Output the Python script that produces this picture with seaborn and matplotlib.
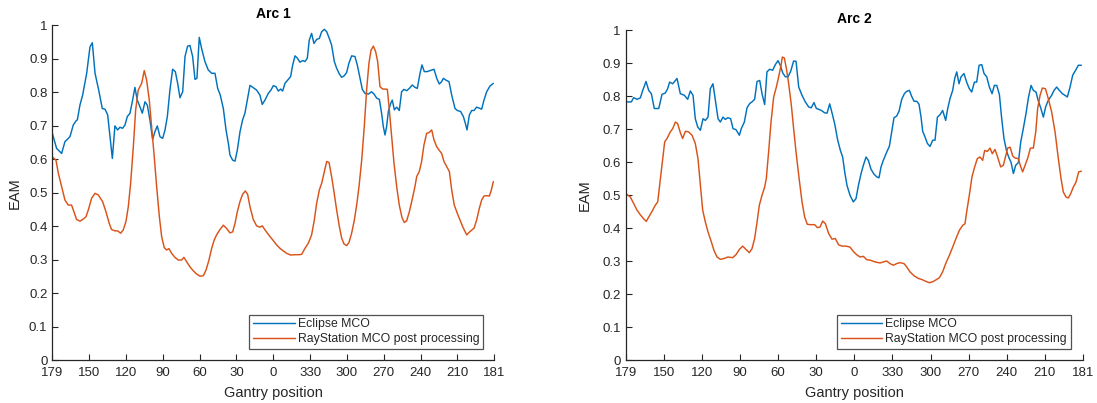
import numpy as np
import pandas as pd
import matplotlib
matplotlib.use("Agg")
import matplotlib.pyplot as plt
import seaborn as sns

# ---------------- data ----------------
tick_pos = [0, 30, 60, 90, 120, 150, 180, 210, 240, 270, 300, 330, 360]
tick_labels = ["179", "150", "120", "90", "60", "30", "0", "330", "300", "270", "240", "210", "181"]
y_ticks = [0, 0.1, 0.2, 0.3, 0.4, 0.5, 0.6, 0.7, 0.8, 0.9, 1.0]
y_tick_labels = ["0", "0.1", "0.2", "0.3", "0.4", "0.5", "0.6", "0.7", "0.8", "0.9", "1"]
series_names = ["Eclipse MCO", "RayStation MCO post processing"]
titles = ["Arc 1", "Arc 2"]

arc1_eclipse_x = [0, 3.5, 7.6, 10.3, 14.4, 17.1, 19.3, 20.4, 22.5, 24.7, 28.0, 30.7, 32.6, 34.8, 37.5,
                  40.7, 42.9, 45.1, 47.0, 48.9, 51.0, 53.2, 55.1, 57.3, 59.2, 61.1, 63.3, 65.4, 67.3,
                  69.2, 71.4, 73.3, 75.5, 77.4, 79.5, 81.7, 83.6, 85.5, 87.7, 89.9, 91.8, 93.7, 95.8,
                  98.0, 100.2, 102.1, 104.0, 106.2, 108.1, 110.2, 112.1, 114.3, 116.2, 117.8, 119.7,
                  121.6, 124.3, 127.0, 129.8, 132.5, 134.7, 136.8, 139.3, 141.5, 143.4, 144.7, 146.9,
                  148.8, 150.7, 152.9, 155.0, 156.9, 158.8, 161.0, 163.7, 166.4, 169.1, 171.0, 173.2,
                  175.9, 178.1, 180.0, 182.2, 184.1, 186.0, 187.6, 189.5, 192.2, 194.1, 195.8, 197.7,
                  199.6, 201.7, 203.9, 205.8, 207.7, 209.3, 211.2, 213.1, 215.3, 217.5, 219.4, 221.6,
                  223.5, 225.6, 227.5, 229.7, 231.6, 233.8, 235.7, 237.6, 239.7, 241.6, 243.8, 246.5,
                  248.4, 250.6, 252.5, 254.7, 257.4, 260.1, 262.0, 264.2, 266.4, 268.2, 269.6, 271.0,
                  272.3, 273.7, 275.6, 276.9, 278.6, 280.5, 282.6, 284.5, 286.4, 288.6, 290.8, 293.2,
                  295.4, 297.3, 299.5, 301.1, 303.0, 305.4, 307.6, 310.9, 313.1, 315.2, 317.1, 318.5,
                  320.4, 323.1, 325.3, 328.0, 329.9, 332.6, 334.8, 336.4, 337.8, 339.7, 341.6, 343.5,
                  345.6, 347.8, 349.7, 351.6, 353.8, 356.5, 359.2]
arc1_eclipse_y = [0.677, 0.632, 0.617, 0.652, 0.667, 0.702, 0.714, 0.717, 0.761, 0.791, 0.856, 0.935,
                  0.947, 0.856, 0.811, 0.751, 0.749, 0.732, 0.667, 0.602, 0.699, 0.687, 0.695, 0.692,
                  0.702, 0.727, 0.737, 0.776, 0.814, 0.776, 0.756, 0.737, 0.771, 0.761, 0.717, 0.659,
                  0.682, 0.699, 0.667, 0.662, 0.687, 0.727, 0.806, 0.868, 0.861, 0.826, 0.783, 0.801,
                  0.906, 0.937, 0.939, 0.906, 0.838, 0.841, 0.963, 0.930, 0.891, 0.866, 0.856, 0.856,
                  0.811, 0.791, 0.751, 0.687, 0.647, 0.612, 0.597, 0.594, 0.627, 0.682, 0.717, 0.737,
                  0.776, 0.820, 0.813, 0.806, 0.791, 0.763, 0.776, 0.796, 0.806, 0.819, 0.816, 0.803,
                  0.809, 0.803, 0.826, 0.838, 0.846, 0.881, 0.908, 0.901, 0.889, 0.894, 0.891, 0.901,
                  0.955, 0.975, 0.945, 0.957, 0.960, 0.980, 0.987, 0.980, 0.960, 0.940, 0.891, 0.871,
                  0.854, 0.844, 0.848, 0.858, 0.886, 0.908, 0.906, 0.881, 0.841, 0.808, 0.796, 0.794,
                  0.801, 0.794, 0.782, 0.778, 0.737, 0.697, 0.672, 0.697, 0.742, 0.766, 0.776, 0.747,
                  0.755, 0.745, 0.801, 0.808, 0.804, 0.811, 0.821, 0.814, 0.811, 0.856, 0.881, 0.861,
                  0.861, 0.864, 0.868, 0.841, 0.824, 0.831, 0.841, 0.836, 0.831, 0.791, 0.751, 0.745,
                  0.742, 0.727, 0.707, 0.687, 0.732, 0.745, 0.745, 0.755, 0.752, 0.749, 0.776, 0.801,
                  0.818, 0.826]

arc1_raystation_x = [0, 3.0, 4.9, 7.6, 10.3, 13.0, 15.7, 17.6, 19.8, 22.5, 25.2, 27.4, 29.3, 32.0,
                     34.8, 37.5, 41.0, 43.7, 46.4, 48.3, 51.0, 53.2, 55.7, 57.8, 60.0, 61.9, 63.8,
                     66.0, 67.9, 70.0, 72.8, 74.9, 76.8, 79.0, 80.9, 82.8, 85.0, 87.2, 89.1, 91.2,
                     93.1, 95.0, 97.2, 99.9, 102.6, 105.3, 107.2, 109.4, 112.1, 114.8, 117.6, 120.3,
                     123.0, 125.2, 127.6, 129.8, 131.9, 133.8, 136.6, 139.3, 142.0, 144.7, 146.9,
                     148.8, 150.7, 152.9, 155.0, 157.2, 159.1, 161.0, 163.7, 166.4, 169.1, 171.0,
                     173.2, 175.9, 177.3, 180.0, 182.7, 185.4, 188.2, 190.9, 194.1, 197.7, 201.2,
                     203.1, 205.8, 208.5, 211.2, 213.4, 215.3, 217.5, 219.4, 221.6, 223.5, 225.4,
                     227.5, 229.4, 231.6, 233.8, 235.7, 237.6, 239.7, 241.6, 243.8, 246.0, 247.9,
                     249.8, 252.0, 254.1, 256.0, 257.9, 259.6, 261.5, 263.4, 265.0, 266.9, 269.1,
                     271.0, 272.9, 274.5, 276.4, 278.3, 280.5, 282.6, 284.8, 286.7, 288.6, 290.8,
                     293.0, 295.1, 296.8, 298.9, 300.8, 302.7, 304.9, 306.8, 309.0, 310.9, 313.1,
                     315.0, 317.1, 319.0, 321.2, 323.4, 325.3, 327.4, 329.9, 332.1, 334.2, 337.5,
                     340.2, 343.5, 345.6, 347.8, 349.7, 351.6, 353.8, 356.0, 357.6, 359.2]
arc1_raystation_y = [0.607, 0.597, 0.558, 0.518, 0.478, 0.463, 0.463, 0.443, 0.420, 0.415, 0.421,
                     0.428, 0.448, 0.483, 0.498, 0.493, 0.473, 0.443, 0.408, 0.390, 0.386, 0.386,
                     0.379, 0.389, 0.414, 0.458, 0.528, 0.637, 0.747, 0.806, 0.826, 0.864, 0.836,
                     0.776, 0.697, 0.617, 0.518, 0.428, 0.368, 0.336, 0.329, 0.333, 0.319, 0.307,
                     0.299, 0.299, 0.307, 0.294, 0.279, 0.267, 0.257, 0.251, 0.252, 0.269, 0.299,
                     0.334, 0.359, 0.374, 0.390, 0.403, 0.393, 0.380, 0.383, 0.408, 0.443, 0.474,
                     0.495, 0.505, 0.495, 0.458, 0.420, 0.401, 0.397, 0.401, 0.389, 0.376, 0.369,
                     0.357, 0.344, 0.334, 0.326, 0.319, 0.314, 0.315, 0.315, 0.316, 0.334, 0.349,
                     0.374, 0.418, 0.468, 0.508, 0.528, 0.563, 0.593, 0.590, 0.548, 0.503, 0.448,
                     0.399, 0.364, 0.347, 0.342, 0.351, 0.379, 0.418, 0.463, 0.518, 0.597, 0.697,
                     0.806, 0.886, 0.925, 0.937, 0.920, 0.891, 0.816, 0.809, 0.809, 0.808, 0.747,
                     0.667, 0.588, 0.518, 0.463, 0.426, 0.411, 0.416, 0.443, 0.478, 0.513, 0.548,
                     0.563, 0.593, 0.642, 0.677, 0.679, 0.687, 0.657, 0.637, 0.627, 0.617, 0.593,
                     0.578, 0.563, 0.508, 0.463, 0.438, 0.418, 0.399, 0.374, 0.384, 0.394, 0.418,
                     0.453, 0.478, 0.490, 0.491, 0.490, 0.508, 0.533]

arc2_eclipse_x = [0, 4.4, 6.3, 8.9, 11.5, 13.4, 16.0, 18.1, 20.2, 22.5, 26.0, 28.6, 31.2, 33.0, 34.6,
                  37.0, 40.4, 43.0, 46.2, 48.8, 50.9, 53.0, 54.8, 56.7, 58.8, 60.9, 62.7, 64.8, 66.6,
                  68.7, 70.6, 72.7, 74.5, 76.6, 78.4, 80.5, 82.6, 84.5, 86.8, 89.5, 91.0, 93.4, 95.5,
                  97.6, 99.4, 101.5, 103.4, 105.5, 107.3, 109.4, 111.2, 113.3, 115.7, 117.8, 119.9,
                  121.7, 123.6, 125.7, 127.8, 129.9, 132.2, 134.1, 136.2, 138.8, 141.4, 144.0, 146.1,
                  148.2, 150.1, 152.4, 154.5, 156.6, 158.5, 160.6, 162.4, 164.5, 166.9, 169.0, 170.8,
                  172.4, 174.2, 176.6, 179.2, 181.3, 183.2, 185.3, 187.1, 189.2, 191.0, 193.1, 195.5,
                  197.6, 199.4, 201.0, 202.8, 205.5, 207.6, 209.4, 211.2, 213.3, 215.2, 217.3, 219.4,
                  221.2, 223.3, 225.1, 227.0, 229.1, 230.9, 232.5, 233.8, 235.6, 237.5, 239.6, 241.7,
                  243.5, 245.4, 247.4, 249.5, 251.9, 253.5, 255.3, 257.4, 259.0, 260.6, 262.4, 264.0,
                  266.3, 268.4, 270.5, 272.4, 274.5, 276.3, 278.2, 280.3, 282.1, 284.2, 286.3, 288.4,
                  290.2, 292.1, 294.2, 296.0, 297.8, 299.9, 301.8, 303.3, 305.2, 307.0, 309.1, 311.0,
                  313.0, 315.1, 317.0, 319.1, 320.9, 323.0, 324.9, 326.7, 328.8, 330.6, 332.7, 335.3,
                  337.2, 339.3, 341.4, 343.7, 345.8, 347.7, 349.8, 351.9, 354.2, 356.3, 358.7]
arc2_eclipse_y = [0.783, 0.783, 0.796, 0.791, 0.795, 0.818, 0.845, 0.818, 0.808, 0.763, 0.763, 0.806,
                  0.810, 0.823, 0.843, 0.838, 0.854, 0.808, 0.803, 0.791, 0.816, 0.803, 0.732, 0.707,
                  0.697, 0.732, 0.727, 0.737, 0.823, 0.838, 0.788, 0.732, 0.722, 0.737, 0.730, 0.735,
                  0.732, 0.702, 0.699, 0.682, 0.702, 0.722, 0.765, 0.778, 0.783, 0.791, 0.845, 0.848,
                  0.808, 0.775, 0.874, 0.882, 0.879, 0.896, 0.908, 0.894, 0.871, 0.859, 0.859, 0.876,
                  0.907, 0.906, 0.828, 0.803, 0.783, 0.768, 0.765, 0.781, 0.763, 0.760, 0.756, 0.750,
                  0.749, 0.777, 0.750, 0.717, 0.667, 0.636, 0.616, 0.571, 0.530, 0.500, 0.480, 0.490,
                  0.530, 0.566, 0.591, 0.616, 0.606, 0.579, 0.564, 0.556, 0.553, 0.586, 0.606, 0.631,
                  0.649, 0.692, 0.735, 0.740, 0.755, 0.791, 0.808, 0.815, 0.818, 0.800, 0.785, 0.785,
                  0.776, 0.737, 0.694, 0.677, 0.657, 0.648, 0.667, 0.667, 0.737, 0.744, 0.757, 0.727,
                  0.763, 0.793, 0.818, 0.854, 0.874, 0.838, 0.859, 0.869, 0.843, 0.823, 0.813, 0.843,
                  0.843, 0.894, 0.896, 0.869, 0.859, 0.828, 0.808, 0.833, 0.833, 0.805, 0.732, 0.672,
                  0.633, 0.613, 0.601, 0.566, 0.591, 0.599, 0.662, 0.702, 0.747, 0.795, 0.833, 0.818,
                  0.813, 0.785, 0.765, 0.737, 0.768, 0.788, 0.803, 0.818, 0.828, 0.818, 0.808, 0.803,
                  0.798, 0.828, 0.864, 0.879, 0.894, 0.894]

arc2_raystation_x = [0, 3.6, 6.3, 8.9, 11.5, 14.1, 16.2, 18.1, 20.7, 23.3, 25.2, 26.7, 28.6, 30.7,
                     32.5, 35.1, 37.0, 39.1, 40.9, 43.0, 44.8, 47.0, 49.6, 52.2, 54.8, 56.9, 58.8,
                     60.6, 62.7, 64.8, 67.4, 69.5, 71.9, 74.5, 77.1, 80.5, 84.2, 86.8, 89.5, 92.1,
                     94.7, 97.3, 99.4, 101.5, 103.4, 105.2, 107.3, 109.4, 110.7, 112.5, 114.4, 116.5,
                     118.6, 120.4, 122.3, 123.3, 124.9, 126.5, 128.3, 130.4, 132.2, 134.1, 136.2,
                     138.8, 140.9, 143.0, 145.3, 148.8, 150.9, 153.0, 155.1, 157.2, 159.8, 162.4,
                     165.0, 167.6, 170.3, 173.4, 176.6, 179.2, 181.8, 184.5, 187.1, 189.7, 192.9,
                     196.3, 200.2, 202.8, 205.5, 208.1, 210.7, 213.3, 216.0, 219.1, 221.2, 223.8,
                     227.0, 230.4, 233.0, 236.4, 239.1, 242.2, 244.8, 246.9, 249.5, 252.2, 254.8,
                     257.4, 260.0, 262.7, 265.3, 267.1, 268.4, 270.5, 272.6, 274.7, 276.8, 278.9,
                     281.0, 282.6, 284.7, 286.8, 288.6, 290.7, 292.8, 295.2, 297.3, 298.9, 300.7,
                     302.6, 304.7, 306.5, 309.1, 311.0, 312.5, 314.4, 316.5, 318.6, 320.9, 322.8,
                     324.3, 326.2, 328.0, 330.4, 332.7, 335.3, 338.0, 340.6, 342.7, 344.5, 346.6,
                     348.5, 350.3, 352.4, 354.5, 356.6, 358.7]
arc2_raystation_y = [0.505, 0.495, 0.475, 0.455, 0.441, 0.429, 0.421, 0.434, 0.451, 0.470, 0.480,
                     0.530, 0.591, 0.662, 0.672, 0.692, 0.702, 0.722, 0.717, 0.690, 0.672, 0.694,
                     0.692, 0.682, 0.657, 0.611, 0.530, 0.455, 0.419, 0.389, 0.359, 0.333, 0.313,
                     0.306, 0.308, 0.313, 0.311, 0.320, 0.336, 0.346, 0.336, 0.326, 0.338, 0.369,
                     0.419, 0.470, 0.500, 0.525, 0.551, 0.631, 0.722, 0.798, 0.828, 0.859, 0.894,
                     0.919, 0.916, 0.884, 0.838, 0.773, 0.702, 0.631, 0.561, 0.480, 0.434, 0.412,
                     0.411, 0.411, 0.402, 0.404, 0.422, 0.414, 0.384, 0.367, 0.369, 0.350, 0.346,
                     0.346, 0.343, 0.330, 0.320, 0.313, 0.315, 0.305, 0.303, 0.298, 0.295, 0.298,
                     0.301, 0.293, 0.288, 0.293, 0.296, 0.293, 0.283, 0.268, 0.256, 0.248, 0.245,
                     0.239, 0.235, 0.239, 0.245, 0.250, 0.268, 0.296, 0.318, 0.343, 0.369, 0.394,
                     0.409, 0.414, 0.449, 0.500, 0.556, 0.586, 0.611, 0.616, 0.606, 0.636, 0.633,
                     0.643, 0.626, 0.639, 0.616, 0.586, 0.591, 0.616, 0.643, 0.646, 0.619, 0.613,
                     0.611, 0.586, 0.571, 0.591, 0.613, 0.643, 0.643, 0.692, 0.763, 0.803, 0.825,
                     0.823, 0.793, 0.753, 0.692, 0.611, 0.551, 0.510, 0.495, 0.492, 0.505, 0.525,
                     0.540, 0.571, 0.573]

# ---------------- styling ----------------
sns.set_theme(style="white")
plt.rcParams["font.family"] = ["Liberation Sans", "DejaVu Sans"]
axis_color = "#262626"
palette = {series_names[0]: "#0072BD", series_names[1]: "#D95319"}


def make_frame(ex, ey, rx, ry):
    d1 = pd.DataFrame({"pos": ex, "EAM": ey, "series": series_names[0]})
    d2 = pd.DataFrame({"pos": rx, "EAM": ry, "series": series_names[1]})
    return pd.concat([d1, d2], ignore_index=True)


frames = [make_frame(arc1_eclipse_x, arc1_eclipse_y, arc1_raystation_x, arc1_raystation_y),
          make_frame(arc2_eclipse_x, arc2_eclipse_y, arc2_raystation_x, arc2_raystation_y)]

W, H = 1097, 403
fig = plt.figure(figsize=(W / 100, H / 100), dpi=100)
# axes boxes in pixels: (left, right, top, bottom)
boxes = [(52.3, 494.3, 25.0, 360.3), (625.7, 1083.0, 30.3, 360.3)]
ylabel_x = [-0.0686, -0.0737]
xlabel_y = [-0.078, -0.079]
legend_anchor = [(0.9744, 0.0337), (0.973, 0.034)]

for i, (df, box) in enumerate(zip(frames, boxes)):
    l, r, t, b = box
    ax = fig.add_axes([l / W, 1 - b / H, (r - l) / W, (b - t) / H])
    sns.lineplot(data=df, x="pos", y="EAM", hue="series", palette=palette,
                 estimator=None, sort=False, linewidth=1.05, ax=ax, legend=False)
    ax.set_xlim(0, 360)
    ax.set_ylim(0, 1)
    ax.set_xticks(tick_pos)
    ax.set_xticklabels(tick_labels)
    ax.set_yticks(y_ticks)
    ax.set_yticklabels(y_tick_labels)
    for side in ["top", "right"]:
        ax.spines[side].set_visible(False)
    for side in ["left", "bottom"]:
        ax.spines[side].set_color(axis_color)
        ax.spines[side].set_linewidth(0.9)
    ax.tick_params(axis="both", direction="in", length=4, width=0.8,
                   colors=axis_color, labelsize=9.5, left=True, bottom=True)
    ax.tick_params(axis="x", pad=5)
    ax.tick_params(axis="y", pad=3.5)
    ax.set_xlabel("Gantry position", fontsize=10.5, color=axis_color)
    ax.set_ylabel("EAM", fontsize=10.5, color=axis_color)
    ax.yaxis.set_label_coords(ylabel_x[i], 0.5)
    ax.xaxis.set_label_coords(0.5, xlabel_y[i])
    ax.set_title(titles[i], fontsize=10, fontweight="bold", color="black", pad=5)
    handles = [plt.Line2D([], [], color=palette[n], linewidth=1.05) for n in series_names]
    leg = ax.legend(handles, series_names, loc="lower right",
                    bbox_to_anchor=legend_anchor[i], borderaxespad=0,
                    fontsize=8.8, handlelength=3.4, handletextpad=0.25,
                    borderpad=0.3, labelspacing=0.25, frameon=True, fancybox=False)
    leg.get_frame().set_edgecolor(axis_color)
    leg.get_frame().set_linewidth(0.9)
    for txt in leg.get_texts():
        txt.set_color(axis_color)

fig.savefig("out.png", dpi=100)
